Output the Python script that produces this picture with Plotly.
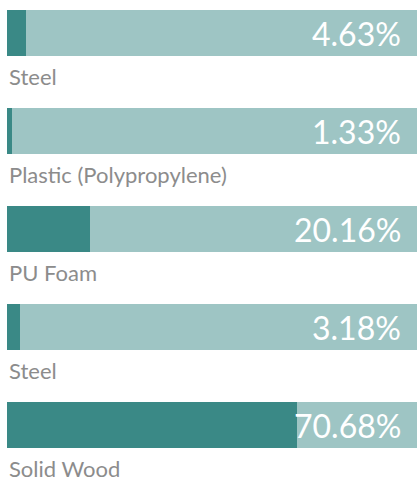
import plotly.graph_objects as go

materials = ["Steel", "Plastic (Polypropylene)", "PU Foam", "Steel", "Solid Wood"]
shares = [4.63, 1.33, 20.16, 3.18, 70.68]
full = [100, 100, 100, 100, 100]
labels = [f"{v:.2f}%" for v in shares]

DARK = "#3a8986"
LIGHT = "#9ec5c4"
GREY = "#8c8c8c"

pos = list(range(len(materials)))

fig = go.Figure()
fig.add_trace(go.Bar(x=full, y=pos, orientation="h", marker=dict(color=LIGHT, line=dict(width=0)),
                     width=0.47, hoverinfo="skip", showlegend=False))
fig.add_trace(go.Bar(x=shares, y=pos, orientation="h", marker=dict(color=DARK, line=dict(width=0)),
                     width=0.47, showlegend=False, customdata=materials,
                     hovertemplate="%{customdata}: %{x:.2f}%<extra></extra>"))

for i, (m, t) in enumerate(zip(materials, labels)):
    fig.add_annotation(x=0, xref="paper", y=i, yref="y", text=m, showarrow=False,
                       xanchor="left", yanchor="middle", yshift=-43,
                       font=dict(family="Lato", size=22, color=GREY))
    fig.add_annotation(x=100, xref="x", y=i, yref="y", text=t, showarrow=False,
                       xanchor="right", yanchor="middle", xshift=-14,
                       font=dict(family="Lato", size=32, color="white"))

fig.update_layout(
    width=417, height=481, barmode="overlay",
    margin=dict(l=7, r=0, t=0, b=0),
    paper_bgcolor="white", plot_bgcolor="white",
    xaxis=dict(range=[0, 100], visible=False, fixedrange=True),
    yaxis=dict(range=[4.5714, -0.3367], visible=False, fixedrange=True),
    bargap=0,
)
fig.write_html("out.html", config={"displayModeBar": False},
               post_script="document.body.style.margin='0';document.body.style.overflow='hidden';")
